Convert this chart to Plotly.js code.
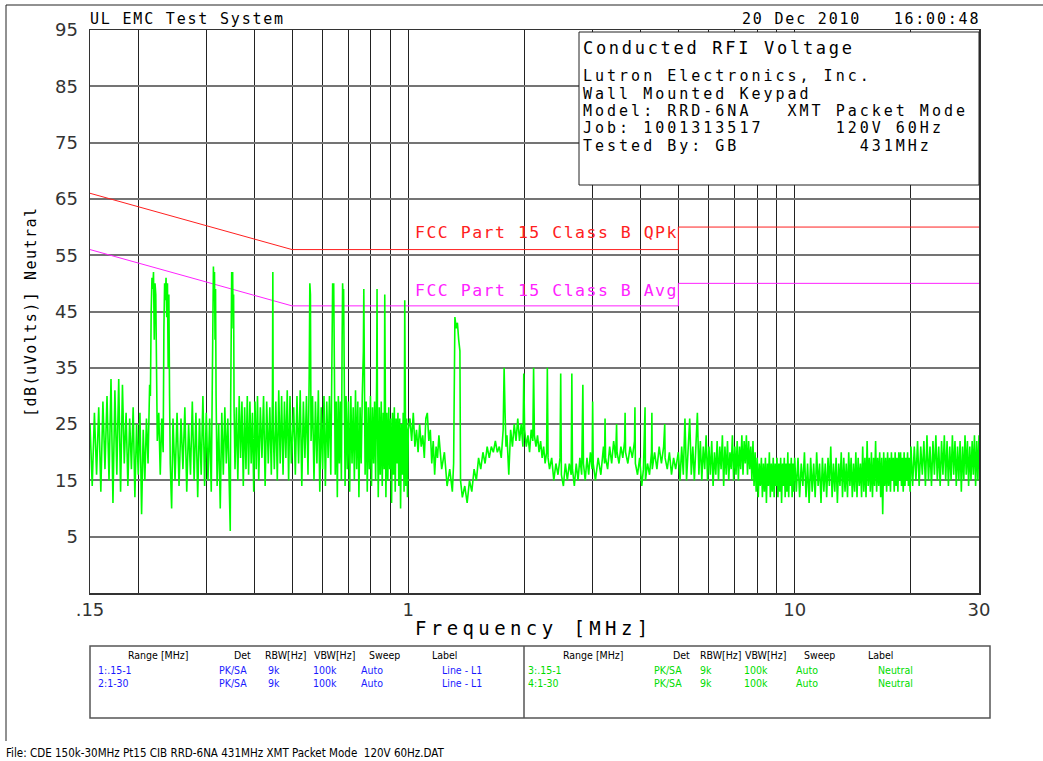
<!DOCTYPE html>
<html>
<head>
<meta charset="utf-8">
<script src="https://cdn.plot.ly/plotly-3.0.1.min.js"></script>
<style>
html,body{margin:0;padding:0;background:#fff;}
#chart{width:1043px;height:761px;}
</style>
</head>
<body>
<div id="chart"></div>
<script>
// ---------------- DATA ----------------
// Neutral conducted emission trace, [frequency MHz, level dB(uV)]
const neutralA = [[0.150,25],[0.152,14],[0.154,27],[0.156,16],[0.158,28],[0.160,13],[0.162,29],[0.164,17],[0.166,30],[0.168,15],[0.170,33],[0.172,11],[0.174,31],[0.176,16],[0.178,33],[0.180,13],[0.182,32],[0.184,18],[0.186,27],[0.188,14],[0.190,26],[0.192,17],[0.194,28],[0.196,12],[0.198,25],[0.200,16]];
const neutralB = [[0.202,27],[0.204,9],[0.206,24],[0.208,15],[0.210,26],[0.212,18],[0.214,32],[0.215,30],[0.216,45],[0.217,51],[0.218,49],[0.219,52],[0.220,40],[0.221,50],[0.222,48],[0.223,38],[0.224,22],[0.226,27],[0.228,16],[0.230,26],[0.232,20],[0.233,42],[0.234,50],[0.235,47],[0.236,51],[0.237,44],[0.238,50],[0.239,35],[0.240,48],[0.241,30],[0.242,18],[0.244,10],[0.246,26],[0.249,15],[0.252,27],[0.255,14],[0.258,26],[0.261,17],[0.264,28],[0.267,13],[0.270,25],[0.273,16],[0.276,29],[0.279,15],[0.282,27],[0.285,12],[0.288,26],[0.291,16],[0.294,30],[0.297,14],[0.300,27]];
const neutralC = [[0.303,15],[0.306,26],[0.309,13],[0.311,30],[0.312,45],[0.313,53],[0.314,48],[0.315,52],[0.316,40],[0.317,49],[0.318,30],[0.320,14],[0.323,25],[0.326,10],[0.329,27],[0.332,16],[0.335,28],[0.338,18],[0.341,26],[0.344,12],[0.346,6],[0.347,30],[0.348,47],[0.349,52],[0.350,46],[0.351,52],[0.352,42],[0.353,48],[0.354,28],[0.356,17],[0.359,28],[0.362,15],[0.365,30],[0.368,19],[0.371,29],[0.374,14],[0.377,28],[0.380,17],[0.383,30],[0.386,16],[0.389,29],[0.392,18],[0.395,27],[0.398,13],[0.401,29],[0.404,17],[0.407,30],[0.410,15],[0.414,28],[0.418,19],[0.422,30],[0.426,14],[0.430,29],[0.434,18],[0.438,28],[0.442,16],[0.445,30],[0.446,52],[0.447,24],[0.450,17],[0.454,29],[0.458,15],[0.462,31],[0.466,18],[0.470,30],[0.474,16],[0.478,29],[0.482,19],[0.486,31],[0.490,15],[0.494,30],[0.498,18]];
const neutralD = [[0.505,28],[0.510,16],[0.515,30],[0.520,18],[0.525,31],[0.530,14],[0.535,29],[0.540,19],[0.545,30],[0.550,16],[0.554,34],[0.556,50],[0.558,48],[0.560,22],[0.565,30],[0.570,15],[0.575,29],[0.580,18],[0.585,31],[0.590,13],[0.595,28],[0.600,17],[0.605,30],[0.610,14],[0.615,29],[0.620,19],[0.625,30],[0.630,16],[0.635,38],[0.637,50],[0.639,47],[0.641,50],[0.643,30],[0.647,16],[0.651,29],[0.655,12],[0.659,30],[0.663,18],[0.667,29],[0.671,15],[0.674,40],[0.676,50],[0.678,46],[0.680,49],[0.682,28],[0.686,14],[0.690,30],[0.695,17],[0.700,29],[0.705,13],[0.710,30],[0.715,18],[0.720,28],[0.725,15],[0.730,31],[0.735,17],[0.740,29],[0.745,12],[0.750,28],[0.755,18],[0.760,30],[0.765,38],[0.767,49],[0.769,30],[0.773,16],[0.778,29],[0.783,13],[0.788,28],[0.793,17],[0.798,30],[0.803,14],[0.808,28],[0.813,18],[0.818,29],[0.823,15],[0.828,33],[0.830,49],[0.832,26],[0.836,12],[0.841,28],[0.846,16],[0.851,29],[0.856,14],[0.861,27],[0.866,17],[0.869,48],[0.871,30],[0.875,12],[0.880,27],[0.885,15],[0.890,28],[0.895,17],[0.900,26],[0.905,11],[0.910,27],[0.915,16],[0.920,28],[0.925,13],[0.930,26],[0.935,18],[0.940,27],[0.945,14],[0.950,26],[0.955,10],[0.960,25],[0.965,16],[0.970,27],[0.975,13],[0.979,47],[0.981,25],[0.985,14],[0.990,26],[0.995,12],[1.000,24]];
const neutralE = [[1.01,26],[1.02,22],[1.03,27],[1.04,21],[1.05,24],[1.06,20],[1.07,25],[1.08,21],[1.09,23],[1.10,19],[1.11,26],[1.12,27],[1.13,22],[1.14,24],[1.15,18],[1.16,22],[1.17,16],[1.18,21],[1.19,19],[1.20,23],[1.22,17],[1.24,20],[1.26,14],[1.28,17],[1.30,13],[1.31,18],[1.315,43],[1.32,44],[1.33,42],[1.34,43],[1.35,40],[1.36,38],[1.365,15],[1.38,12],[1.40,14],[1.42,11],[1.44,15],[1.46,13],[1.48,17],[1.50,15],[1.52,19],[1.54,17],[1.56,20],[1.58,18],[1.60,21],[1.62,19],[1.64,21],[1.66,20],[1.68,22],[1.70,20],[1.72,21],[1.74,19],[1.76,24],[1.77,35],[1.78,27],[1.79,21],[1.80,23],[1.82,16],[1.84,24],[1.86,21],[1.88,25],[1.90,22],[1.92,26],[1.94,22],[1.96,25],[1.98,21],[1.99,34],[2.00,24]];
const neutralF = [[2.02,21],[2.04,23],[2.06,20],[2.08,24],[2.10,22],[2.11,35],[2.12,23],[2.14,21],[2.16,23],[2.18,20],[2.20,22],[2.22,19],[2.24,21],[2.26,18],[2.28,20],[2.29,35],[2.30,19],[2.32,17],[2.35,19],[2.38,15],[2.41,18],[2.44,16],[2.47,19],[2.48,34],[2.49,16],[2.52,14],[2.55,18],[2.58,15],[2.61,18],[2.64,16],[2.65,34],[2.66,17],[2.69,14],[2.72,18],[2.75,15],[2.78,19],[2.81,16],[2.83,32],[2.84,18],[2.87,15],[2.90,19],[2.93,16],[2.96,20],[2.99,17],[3.00,29],[3.01,18],[3.05,15],[3.10,19],[3.15,16],[3.20,21],[3.22,18],[3.23,26],[3.24,19],[3.28,17],[3.32,21],[3.36,18],[3.40,22],[3.44,19],[3.46,25],[3.47,20],[3.51,18],[3.55,21],[3.59,19],[3.63,22],[3.64,27],[3.65,20],[3.70,18],[3.75,21],[3.80,19],[3.85,22],[3.86,28],[3.87,18],[3.92,16],[3.97,19],[4.02,14],[4.06,17],[4.10,28],[4.11,15],[4.16,18],[4.21,16],[4.26,20],[4.27,27],[4.28,17],[4.34,20],[4.40,17],[4.46,21],[4.52,18],[4.58,21],[4.61,25],[4.62,19],[4.68,17],[4.74,20],[4.80,16],[4.86,19],[4.92,17],[4.98,20]];
const neutralG = [[5.00,20],[5.05,15],[5.10,21],[5.15,16],[5.20,26],[5.25,15],[5.30,20],[5.35,26],[5.40,16],[5.45,21],[5.50,15],[5.55,20],[5.60,27],[5.65,16],[5.70,22],[5.75,15],[5.80,21],[5.85,17],[5.90,23],[5.95,15],[6.00,21],[6.05,16],[6.10,22],[6.15,14],[6.20,20],[6.25,16],[6.30,22],[6.35,15],[6.40,21],[6.45,17],[6.50,23],[6.55,14],[6.60,21],[6.65,16],[6.70,22],[6.75,15],[6.80,20],[6.85,17],[6.90,23],[6.95,15],[7.00,21],[7.05,16],[7.10,22],[7.15,15],[7.20,21],[7.25,17],[7.30,23],[7.35,16],[7.40,22],[7.45,18],[7.50,23],[7.55,16],[7.60,22],[7.65,17],[7.70,21],[7.75,15],[7.80,22],[7.85,14],[7.90,20],[7.95,13],[8.00,19],[8.05,12],[8.10,18],[8.15,14],[8.20,19],[8.25,12],[8.30,18],[8.35,13],[8.40,19],[8.45,11],[8.50,18],[8.55,14],[8.60,20],[8.65,12],[8.70,18],[8.75,13],[8.80,19],[8.85,12],[8.90,18],[8.95,14],[9.00,19],[9.05,12],[9.10,18],[9.15,13],[9.20,19],[9.25,11],[9.30,18],[9.35,14],[9.40,19],[9.45,12],[9.50,18],[9.55,13],[9.60,20],[9.65,12],[9.70,18],[9.75,14],[9.80,19],[9.85,12],[9.90,18],[9.95,13],[10.00,19]];
const neutralH = [[10.1,13],[10.2,19],[10.3,12],[10.4,18],[10.5,14],[10.6,20],[10.7,12],[10.8,18],[10.9,11],[11.0,19],[11.1,13],[11.2,18],[11.3,12],[11.4,20],[11.5,14],[11.6,18],[11.7,11],[11.8,19],[11.9,13],[12.0,18],[12.1,12],[12.2,19],[12.3,14],[12.4,21],[12.5,12],[12.6,18],[12.7,13],[12.8,19],[12.9,11],[13.0,18],[13.1,14],[13.2,20],[13.3,12],[13.4,19],[13.5,13],[13.6,18],[13.7,12],[13.8,20],[13.9,14],[14.0,19],[14.1,12],[14.2,18],[14.3,13],[14.4,20],[14.5,12],[14.6,19],[14.7,14],[14.8,18],[14.9,12],[15.0,21],[15.1,13],[15.2,19],[15.3,12],[15.4,22],[15.5,14],[15.6,19],[15.7,13],[15.8,20],[15.9,12],[16.0,19],[16.1,14],[16.2,22],[16.3,13],[16.4,19],[16.5,14],[16.6,20],[16.7,12],[16.8,19],[16.9,9],[17.0,20],[17.1,14],[17.2,19],[17.3,13],[17.4,20],[17.5,14],[17.6,19],[17.7,13],[17.8,20],[17.9,15],[18.0,19],[18.1,13],[18.2,20],[18.3,14],[18.4,19],[18.5,13],[18.6,20],[18.7,15],[18.8,20],[18.9,14],[19.0,19],[19.1,13],[19.2,20],[19.3,14],[19.4,19],[19.5,15],[19.6,20],[19.7,14],[19.8,19],[19.9,13],[20.0,21]];
const neutralI = [[20.2,14],[20.4,21],[20.6,15],[20.8,22],[21.0,14],[21.2,21],[21.4,16],[21.6,22],[21.8,14],[22.0,23],[22.2,15],[22.4,21],[22.6,14],[22.8,22],[23.0,16],[23.2,23],[23.4,15],[23.6,21],[23.8,14],[24.0,22],[24.2,16],[24.4,23],[24.6,15],[24.8,22],[25.0,14],[25.2,21],[25.4,15],[25.6,23],[25.8,16],[26.0,22],[26.2,14],[26.4,21],[26.6,15],[26.8,22],[27.0,13],[27.2,21],[27.4,15],[27.6,23],[27.8,16],[28.0,22],[28.2,14],[28.4,21],[28.6,15],[28.8,22],[29.0,16],[29.2,23],[29.4,14],[29.6,22],[29.8,15],[30.0,23]];

// FCC Part 15 Class B limits
const limitFreq = [0.15, 0.5, 5, 5, 30];
const qpkLevel  = [66, 56, 56, 60, 60];
const avgLevel  = [56, 46, 46, 50, 50];

// Axis ticks
const xTickVals = [0.15,0.2,0.3,0.4,0.5,0.6,0.7,0.8,0.9,1,2,3,4,5,6,7,8,9,10,20,30];
const xTickText = ['.15','','','','','','','','','1','','','','','','','','','10','','30'];
const yTickVals = [5,15,25,35,45,55,65,75,85,95];
const yTickText = ['5','15','25','35','45','55','65','75','85','95'];

// ---------------- CHART ----------------
const trace = [].concat(neutralA, neutralB, neutralC, neutralD, neutralE, neutralF, neutralG, neutralH, neutralI);

const L = 90, T = 30, W = 889, H = 563;
const px = x => (x - L) / W;
const py = y => (T + H - y) / H;
const MONO = 'DejaVu Sans Mono, monospace';
const SANS = 'DejaVu Sans, sans-serif';
const NB = '\u00a0';
const sp = n => NB.repeat(n);
const ls = (t, s) => '<span style="letter-spacing:' + s + 'px">' + t + '</span>';
const cond = (t) => '<span style="font-stretch:condensed">' + t + '</span>';

function txt(text, x, y, size, color, extra) {
  return Object.assign({
    xref: 'paper', yref: 'paper', x: px(x), y: py(y), text: text,
    showarrow: false, xanchor: 'left', yanchor: 'middle',
    font: {family: MONO, size: size, color: color || '#000'}, borderpad: 0
  }, extra || {});
}

const data = [
  {x: limitFreq, y: qpkLevel, mode: 'lines', line: {color: '#ff2020', width: 1}, hoverinfo: 'skip'},
  {x: limitFreq, y: avgLevel, mode: 'lines', line: {color: '#ff22ff', width: 1}, hoverinfo: 'skip'},
  {x: trace.map(p => p[0]), y: trace.map(p => p[1]), mode: 'lines', line: {color: '#00ff00', width: 1.6}, hoverinfo: 'skip'}
];

const ann = [
  txt(ls('UL EMC Test System', 1.8), 89, 19, 15),
  txt(ls('20 Dec 2010' + sp(3) + '16:00:48', 1.8), 981, 19, 15, '#000', {xanchor: 'right'}),
  txt(ls('Conducted RFI Voltage', 2.7), 582, 48, 17),
  txt(ls('Lutron Electronics, Inc.', 3), 582, 76, 15),
  txt(ls('Wall Mounted Keypad', 3), 582, 94, 15),
  txt(ls('Model:' + NB + 'RRD-6NA' + sp(3) + 'XMT' + NB + 'Packet' + NB + 'Mode', 3), 582, 111, 15),
  txt(ls('Job:' + NB + '1001313517' + sp(6) + '120V' + NB + '60Hz', 3), 582, 128, 15),
  txt(ls('Tested' + NB + 'By:' + NB + 'GB' + sp(10) + '431MHz', 3), 582, 146, 15),
  {xref: 'x', yref: 'y', x: Math.log10(5), y: 59.1, text: ls('FCC Part 15 Class B QPk', 1.5), showarrow: false,
   xanchor: 'right', yanchor: 'middle', xshift: 1, font: {family: MONO, size: 16.5, color: '#ff2020'}, borderpad: 0},
  {xref: 'x', yref: 'y', x: Math.log10(5), y: 48.8, text: ls('FCC Part 15 Class B Avg', 1.5), showarrow: false,
   xanchor: 'right', yanchor: 'middle', xshift: 1, font: {family: MONO, size: 16.5, color: '#ff22ff'}, borderpad: 0},
  txt(ls('Frequency [MHz]', 4.4), 534, 628, 19, '#000', {xanchor: 'center'}),
  txt(ls('[dB(uVolts)] Neutral', 1.5), 31, 312, 15, '#000', {xanchor: 'center', textangle: -90}),
  txt(cond('File: CDE 150k-30MHz Pt15 CIB RRD-6NA 431MHz XMT Packet Mode' + sp(2) + '120V 60Hz.DAT'), 5, 753, 11.5, '#000', {font: {family: SANS, size: 11.5, color: '#000'}})
];

// legend table
const headCols = [['Range [MHz]', 127], ['Det', 233], ['RBW[Hz]', 264], ['VBW[Hz]', 313], ['Sweep', 368], ['Label', 431]];
const headCols2 = [['Range [MHz]', 562], ['Det', 672], ['RBW[Hz]', 699], ['VBW[Hz]', 744], ['Sweep', 803], ['Label', 867]];
const rowsLeft = [['1:.15-1', 'PK/SA', '9k', '100k', 'Auto', 'Line - L1'], ['2:1-30', 'PK/SA', '9k', '100k', 'Auto', 'Line - L1']];
const rowsRight = [['3:.15-1', 'PK/SA', '9k', '100k', 'Auto', 'Neutral'], ['4:1-30', 'PK/SA', '9k', '100k', 'Auto', 'Neutral']];
const colXLeft = [97, 218, 267, 312, 360, 441];
const colXRight = [527, 653, 699, 743, 795, 877];
const rowY = [670, 683];
function cell(t, x, y, color) {
  return txt(cond(t), x, y, 10.5, color, {font: {family: SANS, size: 10.5, color: color}});
}
headCols.forEach(c => ann.push(cell(c[0], c[1], 655, '#000')));
headCols2.forEach(c => ann.push(cell(c[0], c[1], 655, '#000')));
rowsLeft.forEach((r, i) => r.forEach((t, j) => ann.push(cell(t, colXLeft[j], rowY[i], '#1a1aff'))));
rowsRight.forEach((r, i) => r.forEach((t, j) => ann.push(cell(t, colXRight[j], rowY[i], '#00dd00'))));

const shapes = [
  {type: 'rect', xref: 'paper', yref: 'paper', x0: px(579), x1: px(979), y0: py(185), y1: py(32),
   fillcolor: '#fff', line: {color: '#222', width: 1}, layer: 'above'},
  {type: 'rect', xref: 'paper', yref: 'paper', x0: px(90), x1: px(990), y0: py(718), y1: py(646),
   line: {color: '#555', width: 1.5}},
  {type: 'line', xref: 'paper', yref: 'paper', x0: px(524), x1: px(524), y0: py(718), y1: py(646),
   line: {color: '#555', width: 1.5}},
  {type: 'line', xref: 'paper', yref: 'paper', x0: px(6), x1: px(1043), y0: py(5), y1: py(5),
   line: {color: '#222', width: 1}},
  {type: 'line', xref: 'paper', yref: 'paper', x0: px(6), x1: px(6), y0: py(5), y1: py(741),
   line: {color: '#222', width: 1}}
];

const layout = {
  width: 1043, height: 761,
  margin: {l: L, r: 1043 - L - W, t: T, b: 761 - T - H, pad: 0},
  paper_bgcolor: '#fff', plot_bgcolor: '#fff',
  showlegend: false,
  xaxis: {
    type: 'log', range: [Math.log10(0.15), Math.log10(30)],
    tickmode: 'array', tickvals: xTickVals, ticktext: xTickText,
    showgrid: true, gridcolor: '#222', gridwidth: 1,
    showline: true, linecolor: '#333', linewidth: 1.5, mirror: true,
    ticks: '', zeroline: false,
    tickfont: {family: SANS, size: 18, color: '#333'}
  },
  yaxis: {
    range: [-5, 95], tickmode: 'array', tickvals: yTickVals, ticktext: yTickText,
    showgrid: true, gridcolor: '#747474', gridwidth: 2,
    showline: true, linecolor: '#333', linewidth: 1.5, mirror: true,
    ticks: '', zeroline: false, ticklabelstandoff: 7,
    tickfont: {family: SANS, size: 18, color: '#333'}
  },
  annotations: ann,
  shapes: shapes
};

Plotly.newPlot('chart', data, layout, {displayModeBar: false, staticPlot: true});
</script>
</body>
</html>
